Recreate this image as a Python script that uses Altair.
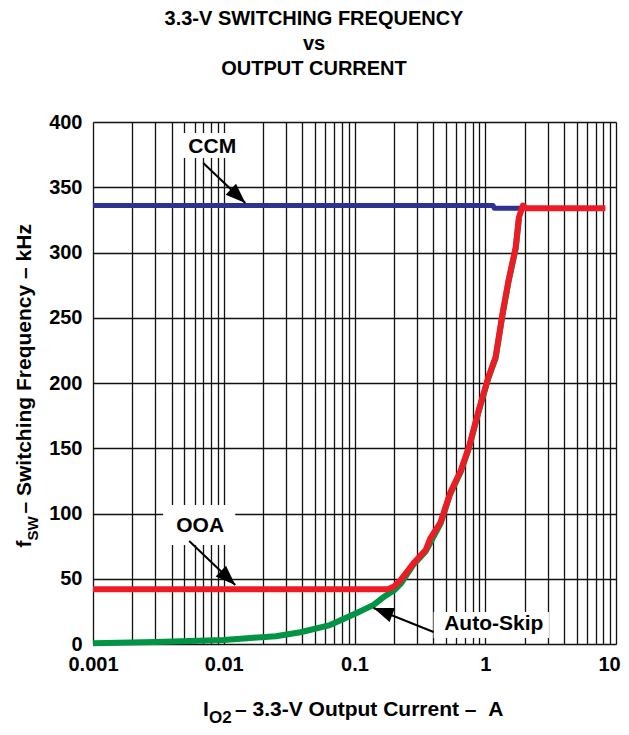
import altair as alt
import pandas as pd

# ---------------- data ----------------
ccm_x = [0.001, 0.01, 0.1, 1.15, 1.17, 1.85]
ccm_y = [336, 336, 336, 336, 334, 334]

ooa_x = [0.001, 0.01, 0.1, 0.18, 0.2, 0.225, 0.283, 0.35, 0.38, 0.456, 0.54, 0.65, 0.75,
         0.89, 1.06, 1.2, 1.36, 1.51, 1.71, 1.81, 1.94, 2.05, 8.3]
ooa_y = [42, 42, 42, 42, 44, 49, 62, 72, 81, 93.5, 116, 133, 151,
         179, 205, 220, 254, 279, 304, 327, 336, 334, 334]

skip_x = [0.001, 0.003, 0.01, 0.016, 0.025, 0.0386, 0.065, 0.105, 0.14, 0.167, 0.2, 0.225,
          0.283, 0.35, 0.456, 0.54, 0.65, 0.75, 0.89, 1.06, 1.2, 1.36, 1.51, 1.71, 1.81]
skip_y = [0.5, 1.5, 3, 4.6, 6, 9, 14.5, 24, 30, 36, 41, 46,
          61, 71, 92.5, 115, 132, 150, 178, 204, 219, 253, 278, 303, 326]

x_ticks = [round(m * 10 ** e, 6) for e in range(-3, 1) for m in range(1, 10)] + [10]
y_ticks = [0, 50, 100, 150, 200, 250, 300, 350, 400]

# annotations (label, text pos, arrow tail, arrow tip, box corners, arrow angle)
ann_label = ["CCM", "OOA", "Auto-Skip"]
ann_tx = [0.00817, 0.0066, 1.162]
ann_ty = [380.8, 90.4, 15.3]
arr_x1 = [0.00697, 0.00544, 0.4027]
arr_y1 = [368.6, 78.9, 9.2]
arr_x2 = [0.01462, 0.01225, 0.1398]
arr_y2 = [337.9, 45.2, 27.6]
arr_angle = [133.6, 133.7, 290.6]
box_x1 = [0.00481, 0.00344, 0.4027]
box_x2 = [0.01462, 0.01225, 3.07]
box_y1 = [391.6, 106.5, 24.5]
box_y2 = [372.4, 75.9, 4.6]

title_lines = ["3.3-V SWITCHING FREQUENCY", "vs", "OUTPUT CURRENT"]

FONT = "Liberation Sans"
NB = "\u00a0"

# ---------------- build tables ----------------
rows = []
for name, xs, ys in [("CCM", ccm_x, ccm_y), ("Auto-Skip", skip_x, skip_y), ("OOA", ooa_x, ooa_y)]:
    for i, (a, b) in enumerate(zip(xs, ys)):
        rows.append({"series": name, "i": i, "x": a, "y": b})
curves = pd.DataFrame(rows)

ann = pd.DataFrame({
    "label": ann_label, "tx": ann_tx, "ty": ann_ty,
    "x1": arr_x1, "y1": arr_y1, "x2": arr_x2, "y2": arr_y2, "angle": arr_angle,
    "bx1": box_x1, "bx2": box_x2, "by1": box_y1, "by2": box_y2,
})

xscale = alt.Scale(type="log", domain=[0.001, 10], nice=False)
yscale = alt.Scale(domain=[0, 400], nice=False, zero=False)

xaxis = alt.Axis(
    values=x_ticks, title=None, grid=True, gridColor="#111111", gridWidth=1.3, gridOpacity=1,
    domain=False, ticks=False, labelPadding=10, labelFont=FONT, labelFontSize=20,
    labelFontWeight="bold", labelColor="black", labelOverlap=False, labelFlush=False,
    format="~g",
    labelOffset={"condition": {"test": "datum.value >= 10", "value": -7}, "value": 0},
    labelExpr="abs(log(datum.value)/LN10 - round(log(datum.value)/LN10)) < 0.000001 ? datum.label : ''",
)
yaxis = alt.Axis(
    values=y_ticks, title=None, grid=True, gridColor="#111111", gridWidth=1.3, gridOpacity=1,
    domain=False, ticks=False, labelPadding=11, labelFont=FONT, labelFontSize=20,
    labelFontWeight="bold", labelColor="black", labelOverlap=False, labelFlush=False,
)

color_scale = alt.Scale(domain=["CCM", "Auto-Skip", "OOA"], range=["#2E3192", "#009444", "#ED1C24"])

base_lines = []
for name, w in [("CCM", 5), ("Auto-Skip", 6), ("OOA", 6)]:
    base_lines.append(
        alt.Chart(curves).transform_filter(alt.datum.series == name).mark_line(
            strokeWidth=w, strokeCap="butt", strokeJoin="round"
        ).encode(
            x=alt.X("x:Q", scale=xscale, axis=xaxis),
            y=alt.Y("y:Q", scale=yscale, axis=yaxis),
            order="i:Q",
            color=alt.Color("series:N", scale=color_scale, legend=None),
        )
    )

boxes = alt.Chart(ann).mark_rect(color="white").encode(
    x=alt.X("bx1:Q", scale=xscale), x2="bx2:Q",
    y=alt.Y("by1:Q", scale=yscale), y2="by2:Q",
)

arrows = alt.Chart(ann).mark_rule(color="black", strokeWidth=2).encode(
    x=alt.X("x1:Q", scale=xscale), x2="x2:Q",
    y=alt.Y("y1:Q", scale=yscale), y2="y2:Q",
)

heads = alt.Chart(ann).mark_point(
    shape="M0,0L-0.75,2L0.75,2Z", size=400, filled=True, color="black", opacity=1
).encode(
    x=alt.X("x2:Q", scale=xscale),
    y=alt.Y("y2:Q", scale=yscale),
    angle=alt.Angle("angle:Q", scale=None),
)

labels = alt.Chart(ann).mark_text(
    font=FONT, fontSize=21, fontWeight="bold", color="black", align="center", baseline="middle"
).encode(
    x=alt.X("tx:Q", scale=xscale),
    y=alt.Y("ty:Q", scale=yscale),
    text="label:N",
)

def ptext(txt, x, y, size=21, align="left", angle=0, baseline="alphabetic"):
    kw = dict(font=FONT, fontSize=size, fontWeight="bold", color="black",
              align=align, baseline=baseline)
    if angle:
        kw["angle"] = angle
    return alt.Chart(pd.DataFrame({"t": [txt]})).mark_text(**kw).encode(
        x=alt.value(x), y=alt.value(y), text="t:N"
    )

texts = [
    ptext(title_lines[0], 221, -97, size=20, align="center"),
    ptext(title_lines[1], 221, -72, size=20, align="center"),
    ptext(title_lines[2], 221, -47, size=20, align="center"),
    # x title
    ptext("I", 110, 594),
    ptext("O2", 116, 600.5, size=17),
    ptext(NB + "\u2013" + NB + "3.3-V Output Current" + NB + "\u2013" + NB + NB + "A", 142, 594),
    # y title (rotated)
    ptext("f", -62, 425.5, angle=270),
    ptext("SW", -55, 418.5, size=15, angle=270),
    ptext(NB + "\u2013" + NB + "Switching Frequency" + NB + "\u2013" + NB + "kHz", -62, 391.5, angle=270),
]

chart = alt.layer(
    *base_lines, boxes, arrows, heads, labels, *texts
).properties(
    width=523, height=522,
    autosize=alt.AutoSizeParams(type="none"),
    padding={"left": 85, "top": 114, "right": 5, "bottom": 83},
).configure_view(
    stroke="black", strokeWidth=2
).configure(background="white")

chart.save("out.html", embed_options={"renderer": "svg", "actions": False})
